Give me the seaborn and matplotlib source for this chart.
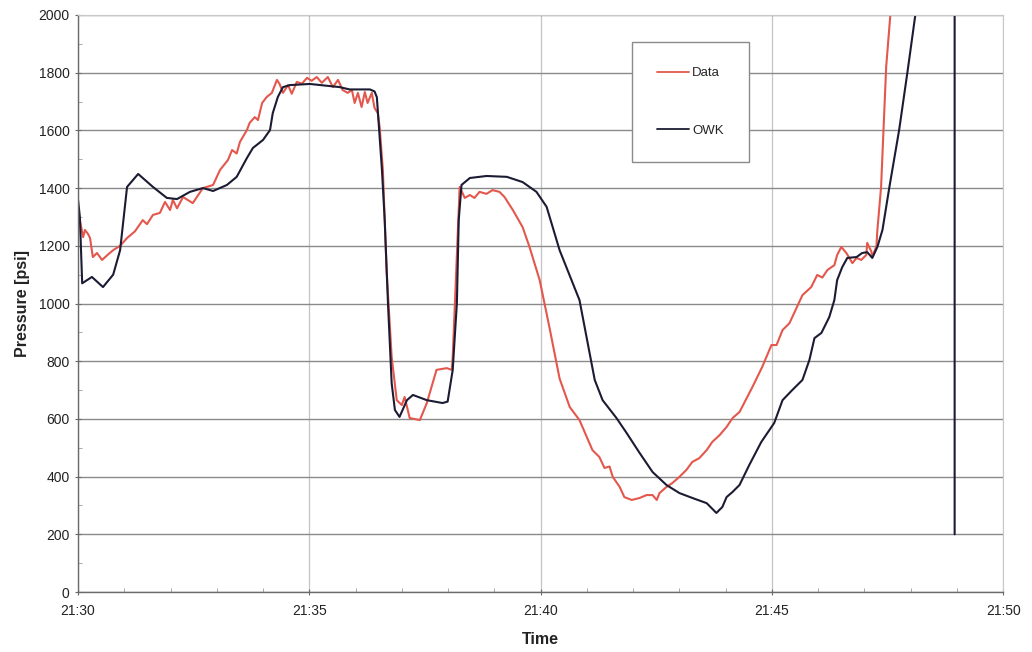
import matplotlib
matplotlib.use("Agg")
import matplotlib.pyplot as plt
from matplotlib.ticker import MultipleLocator, FuncFormatter
import pandas as pd
import seaborn as sns

# Time in minutes after 21:30, pressure in psi
data_min = [0.00, 0.04, 0.11, 0.15, 0.22, 0.26, 0.32, 0.41, 0.52, 0.65, 0.76, 0.91,
            1.06, 1.23, 1.40, 1.49, 1.62, 1.77, 1.88, 1.99, 2.05, 2.14, 2.27, 2.48,
            2.70, 2.92, 3.07, 3.24, 3.33, 3.43, 3.50, 3.65, 3.71, 3.82, 3.89, 3.98,
            4.08, 4.19, 4.30, 4.36, 4.43, 4.54, 4.62, 4.73, 4.84, 4.95, 5.05, 5.16,
            5.27, 5.40, 5.51, 5.62, 5.72, 5.83, 5.92, 5.98, 6.05, 6.13, 6.20, 6.26,
            6.35, 6.41, 6.48, 6.52, 6.59, 6.67, 6.78, 6.89, 7.00, 7.06, 7.17, 7.39,
            7.54, 7.75, 7.97, 8.08, 8.10, 8.25, 8.36, 8.47, 8.57, 8.68, 8.83, 8.96,
            9.11, 9.22, 9.40, 9.61, 9.76, 9.98, 10.19, 10.41, 10.63, 10.84, 11.00,
            11.12, 11.27, 11.38, 11.49, 11.56, 11.71, 11.81, 11.97, 12.14, 12.29,
            12.42, 12.51, 12.57, 12.72, 12.85, 13.00, 13.15, 13.28, 13.43, 13.59,
            13.71, 13.87, 14.02, 14.15, 14.30, 14.58, 14.79, 14.99, 15.10, 15.23,
            15.38, 15.53, 15.66, 15.85, 15.98, 16.09, 16.20, 16.35, 16.41, 16.50,
            16.61, 16.74, 16.83, 16.93, 17.04, 17.06, 17.15, 17.17, 17.26, 17.28,
            17.36, 17.47, 17.56, 17.65]
data_psi = [1300, 1289, 1230, 1255, 1240, 1227, 1161, 1175, 1151, 1170, 1185, 1200,
            1227, 1250, 1289, 1275, 1307, 1314, 1352, 1324, 1359, 1330, 1369, 1348,
            1400, 1411, 1463, 1497, 1532, 1520, 1560, 1601, 1626, 1646, 1636, 1695,
            1716, 1730, 1775, 1760, 1730, 1757, 1727, 1768, 1762, 1782, 1772, 1785,
            1765, 1785, 1750, 1775, 1740, 1730, 1740, 1695, 1730, 1681, 1733, 1695,
            1730, 1678, 1660, 1612, 1463, 1116, 815, 665, 648, 676, 603, 596,
            655, 770, 776, 770, 815, 1404, 1366, 1376, 1366, 1387, 1380, 1393,
            1387, 1369, 1324, 1265, 1196, 1081, 918, 740, 641, 596, 537,
            492, 468, 430, 435, 399, 364, 329, 319, 326, 336,
            336, 319, 343, 364, 378, 399, 423, 451, 464, 492,
            520, 544, 572, 603, 624, 711, 780, 856, 856, 908,
            932, 984, 1029, 1057, 1099, 1090, 1116, 1133, 1168, 1196,
            1175, 1140, 1158, 1151, 1168, 1210, 1180, 1161, 1200, 1255,
            1404, 1820, 2000, 2270]

owk_min = [0.00, 0.04, 0.09, 0.30, 0.54, 0.76, 0.91, 1.06, 1.30, 1.62, 1.92, 2.14,
           2.42, 2.70, 2.92, 3.22, 3.43, 3.65, 3.78, 4.00, 4.15, 4.21, 4.32, 4.43,
           4.58, 5.01, 5.66, 5.87, 6.31, 6.41, 6.46, 6.57, 6.63, 6.70, 6.78, 6.85,
           6.95, 7.11, 7.24, 7.54, 7.88, 7.99, 8.10, 8.19, 8.23, 8.29, 8.47, 8.83,
           9.27, 9.61, 9.91, 10.13, 10.41, 10.84, 11.17, 11.34, 11.64, 11.86, 12.14,
           12.42, 12.72, 13.00, 13.28, 13.59, 13.80, 13.93, 14.02, 14.15, 14.30,
           14.51, 14.77, 15.05, 15.23, 15.44, 15.66, 15.81, 15.92, 16.07, 16.24,
           16.35, 16.41, 16.52, 16.63, 16.83, 16.95, 17.06, 17.17, 17.28, 17.39,
           17.54, 17.75, 17.93, 18.10, 18.30, 18.95, 18.95]
owk_psi = [1360, 1300, 1070, 1092, 1057, 1100, 1185, 1404, 1449, 1404, 1366, 1362,
           1387, 1400, 1390, 1411, 1439, 1504, 1539, 1567, 1601, 1660, 1716, 1750,
           1757, 1761, 1750, 1742, 1742, 1735, 1715, 1463, 1289, 1002, 724, 631,
           607, 665, 683, 665, 655, 660, 770, 1002, 1289, 1411, 1435, 1442,
           1439, 1421, 1387, 1335, 1185, 1012, 735, 665, 603, 551, 482,
           416, 371, 343, 326, 308, 274, 295, 329, 347, 371,
           440, 520, 586, 665, 700, 735, 804, 880, 898, 953,
           1012, 1081, 1126, 1158, 1161, 1175, 1178, 1158, 1196, 1255,
           1404, 1601, 1802, 2000, 2200, 2600, 200]

series_names = ["Data", "OWK"]
series_colors = ["#e4574c", "#1b1c33"]
start_h, start_m = 21, 30

df = pd.concat([
    pd.DataFrame({"min": data_min, "psi": data_psi, "series": "Data"}),
    pd.DataFrame({"min": owk_min, "psi": owk_psi, "series": "OWK"}),
], ignore_index=True)

sns.set_style("white")
plt.rcParams["font.family"] = ["Liberation Sans", "DejaVu Sans"]

fig = plt.figure(figsize=(10.32, 6.52), dpi=100)
ax = fig.add_axes([0.0756, 0.092, 0.8965, 0.885])

sns.lineplot(data=df, x="min", y="psi", hue="series", hue_order=series_names,
             palette=series_colors, estimator=None, sort=False, linewidth=1.5, ax=ax)

ax.set_xlim(0, 20)
ax.set_ylim(0, 2000)
ax.xaxis.set_major_locator(MultipleLocator(5))
ax.xaxis.set_minor_locator(MultipleLocator(1))
ax.yaxis.set_major_locator(MultipleLocator(200))
ax.yaxis.set_minor_locator(MultipleLocator(100))


def fmt_time(v, pos):
    total = start_h * 60 + start_m + int(round(v))
    return f"{total // 60}:{total % 60:02d}"


ax.xaxis.set_major_formatter(FuncFormatter(fmt_time))

ax.grid(axis="y", which="major", color="#8a8a8a", linewidth=1.0)
ax.grid(axis="x", which="major", color="#c4c4c4", linewidth=0.9)
ax.set_axisbelow(True)

for side in ["left", "bottom"]:
    ax.spines[side].set_color("#6a6a6a")
    ax.spines[side].set_linewidth(1.0)
for side in ["top", "right"]:
    ax.spines[side].set_color("#c8c8c8")
    ax.spines[side].set_linewidth(0.8)

ax.tick_params(axis="both", which="major", direction="inout", length=5, width=0.8,
               color="#6a6a6a", labelsize=10, labelcolor="#222222", bottom=True, left=True)
ax.tick_params(axis="both", which="minor", direction="in", length=3, width=0.6,
               color="#9a9a9a", bottom=True, left=True)
ax.tick_params(axis="x", which="major", pad=6)

ax.set_xlabel("Time", fontsize=11.5, fontweight="bold", color="#222222", labelpad=10)
ax.set_ylabel("Pressure [psi]", fontsize=11.5, fontweight="bold", color="#222222", labelpad=6)

handles, labels = ax.get_legend_handles_labels()
leg = ax.legend(handles, labels, loc="upper left", bbox_to_anchor=(0.599, 0.953),
                frameon=True, fancybox=False, framealpha=1.0, edgecolor="#8a8a8a",
                fontsize=9.5, borderpad=1.9, labelspacing=3.4, handlelength=2.4,
                handletextpad=0.25, borderaxespad=0)
leg.get_frame().set_linewidth(1.0)
for line in leg.get_lines():
    line.set_linewidth(1.3)

fig.savefig("out.png", dpi=100)
